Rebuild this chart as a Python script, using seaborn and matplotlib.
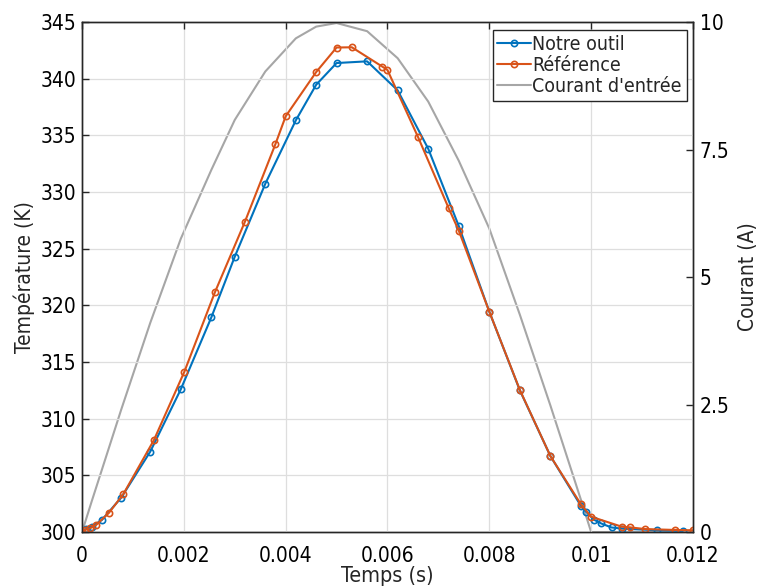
import numpy as np
import pandas as pd
import matplotlib
matplotlib.use('Agg')
import matplotlib.pyplot as plt
import seaborn as sns

# temps (s) / température (K) -- notre outil
t_outil = [0, 0.00007, 0.00019, 0.00039, 0.00077, 0.00134, 0.00194, 0.00254, 0.0030,
           0.0036, 0.0042, 0.0046, 0.0050, 0.0056, 0.0062, 0.0068, 0.0074, 0.0080,
           0.0086, 0.0092, 0.0098, 0.0099, 0.01005, 0.0102, 0.0104, 0.0106, 0.0113, 0.0118]
T_outil = [300.0, 300.24, 300.47, 301.06, 303.03, 307.09, 312.59, 318.94, 324.29,
           330.73, 336.33, 339.47, 341.38, 341.53, 338.97, 333.82, 327.0, 319.44,
           312.5, 306.7, 302.3, 301.8, 301.1, 300.75, 300.4, 300.3, 300.15, 300.1]

# référence
t_ref = [0, 0.00006, 0.00016, 0.00027, 0.00053, 0.00081, 0.00141, 0.00201, 0.00261,
         0.0032, 0.0038, 0.0040, 0.0046, 0.0050, 0.0053, 0.0059, 0.0060, 0.0066,
         0.0072, 0.0074, 0.0080, 0.0086, 0.0092, 0.0098, 0.0100, 0.0106, 0.01076,
         0.01106, 0.01165, 0.0120]
T_ref = [300.0, 300.18, 300.33, 300.59, 301.70, 303.33, 308.09, 314.14, 321.15,
         327.38, 334.24, 336.68, 340.59, 342.75, 342.77, 341.06, 340.76, 334.85,
         328.59, 326.59, 319.44, 312.53, 306.7, 302.44, 301.35, 300.47, 300.41,
         300.26, 300.18, 300.15]

# courant d'entrée (A)
t_cur = [0, 0.00007, 0.00019, 0.00039, 0.00077, 0.00134, 0.00194, 0.00254, 0.0030,
         0.0036, 0.0042, 0.0046, 0.0050, 0.0056, 0.0062, 0.0068, 0.0074, 0.0080,
         0.0086, 0.0092, 0.0098, 0.0100, 0.0120]
I_cur = [0, 0.22, 0.6, 1.22, 2.4, 4.1, 5.75, 7.1, 8.08,
         9.03, 9.68, 9.91, 9.98, 9.82, 9.29, 8.44, 7.28, 5.95,
         4.26, 2.48, 0.63, 0, 0]

x_ticks = [0, 0.002, 0.004, 0.006, 0.008, 0.01, 0.012]
x_labels = ['0', '0.002', '0.004', '0.006', '0.008', '0.01', '0.012']
y_ticks = [300, 305, 310, 315, 320, 325, 330, 335, 340, 345]
y2_ticks = [0, 2.5, 5, 7.5, 10]
y2_labels = ['0', '2.5', '5', '7.5', '10']

BLUE = '#0072BD'
ORANGE = '#D95319'
GRAY = '#A6A6A6'

sns.set_style('white')
plt.rcParams['font.family'] = ['DejaVu Sans']
plt.rcParams['font.stretch'] = 'condensed'
plt.rcParams['font.size'] = 15

df_outil = pd.DataFrame({'t': t_outil, 'T': T_outil})
df_ref = pd.DataFrame({'t': t_ref, 'T': T_ref})
df_cur = pd.DataFrame({'t': t_cur, 'I': I_cur})

fig = plt.figure(figsize=(7.58, 5.87), dpi=100)
ax = fig.add_axes([0.1082, 0.0937, 0.806, 0.8688])
ax2 = ax.twinx()

sns.lineplot(data=df_cur, x='t', y='I', ax=ax2, color=GRAY, linewidth=1.5,
             sort=False, label="Courant d'entrée", legend=False)

sns.lineplot(data=df_outil, x='t', y='T', ax=ax, color=BLUE, linewidth=1.5,
             marker='o', markersize=4.5, markerfacecolor='none',
             markeredgecolor=BLUE, markeredgewidth=1.2, sort=False,
             label='Notre outil', legend=False)
sns.lineplot(data=df_ref, x='t', y='T', ax=ax, color=ORANGE, linewidth=1.5,
             marker='o', markersize=4.5, markerfacecolor='none',
             markeredgecolor=ORANGE, markeredgewidth=1.2, sort=False,
             label='Référence', legend=False)

# temperature axes on top of the current axes
ax.set_zorder(ax2.get_zorder() + 1)
ax.patch.set_visible(False)

ax.set_xlim(0, 0.012)
ax.set_ylim(300, 345)
ax2.set_ylim(0, 10)
ax.set_xticks(x_ticks)
ax.set_xticklabels(x_labels)
ax.set_yticks(y_ticks)
ax2.set_yticks(y2_ticks)
ax2.set_yticklabels(y2_labels)

ax.grid(True, color='#DEDEDE', linewidth=0.9)
ax.set_xlabel('Temps (s)', fontsize=15.5, labelpad=0)
ax.set_ylabel('Température (K)', fontsize=15, labelpad=4)
ax2.set_ylabel('Courant (A)', fontsize=15, labelpad=6)

ax.tick_params(axis='both', direction='in', length=5, width=1, colors='#262626',
               labelsize=15, top=True, labelcolor='black')
ax.tick_params(axis='x', pad=10)
ax.tick_params(axis='y', right=False, pad=4)
ax2.tick_params(axis='y', direction='in', length=5, width=1, colors='#262626',
                labelsize=15, labelcolor='black', pad=5)
for sp in ax.spines.values():
    sp.set_color('#262626')
    sp.set_linewidth(1)
for sp in ax2.spines.values():
    sp.set_color('#262626')
    sp.set_linewidth(1)

h1, l1 = ax.get_legend_handles_labels()
h2, l2 = ax2.get_legend_handles_labels()
leg = ax.legend(h1 + h2, l1 + l2, loc='upper right', bbox_to_anchor=(0.99, 0.985),
                fontsize=14, frameon=True, fancybox=False, framealpha=1,
                edgecolor='#262626', borderpad=0.25, handlelength=1.7,
                handletextpad=0.1, labelspacing=0.12, borderaxespad=0)
leg.get_frame().set_linewidth(1)

fig.savefig('out.png', dpi=100)
